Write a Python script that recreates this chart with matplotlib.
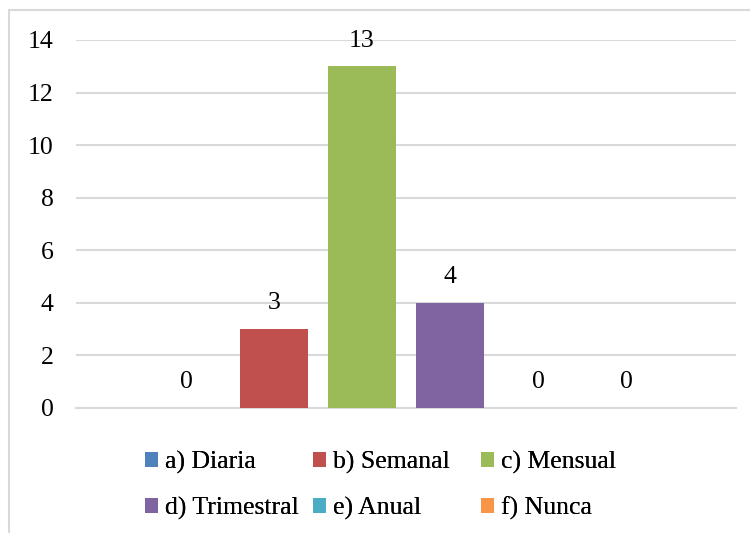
import numpy as np
import matplotlib.pyplot as plt
from matplotlib.patches import Rectangle

# respuestas por frecuencia
labels = ["a) Diaria", "b) Semanal", "c) Mensual", "d) Trimestral", "e) Anual", "f) Nunca"]
values = [0, 3, 13, 4, 0, 0]
colors = ["#4F81BD", "#C0504D", "#9BBB59", "#8064A2", "#4BACC6", "#F79646"]
yticks = [0, 2, 4, 6, 8, 10, 12, 14]


def main():
    plt.rcParams['font.family'] = ['Liberation Serif', 'DejaVu Serif']
    fs = 18.5

    fig = plt.figure(figsize=(7.5, 5.33), dpi=100)
    ax = fig.add_axes([76 / 750, 1 - 408 / 533, 660 / 750, 368 / 533])

    # marco del grafico (se corta a la derecha y abajo)
    fig.patches.append(Rectangle((9 / 750, -0.1), 1.2, 1 - 10 / 533 + 0.1,
                                 transform=fig.transFigure, fill=False,
                                 edgecolor="#D9D9D9", linewidth=1.5))

    x = np.arange(len(values)) - 2.5
    bars = []
    for xi, v, c, lab in zip(x, values, colors, labels):
        b = ax.bar(xi, v, width=0.773, color=c, label=lab, zorder=3)
        bars.append(b[0])
        ax.annotate(str(v), (xi, v), xytext=(0, 18.5), textcoords="offset points",
                    ha="center", va="center", fontsize=fs, color="#000000")

    ax.set_xlim(-3.75, 3.75)
    ax.set_ylim(0, 14)
    ax.set_yticks(yticks)
    ax.set_xticks([])
    ax.tick_params(axis="y", length=0, pad=16, labelsize=fs)
    ax.grid(axis="y", color="#D9D9D9", linewidth=1.5, zorder=0)
    for s in ["top", "right", "left"]:
        ax.spines[s].set_visible(False)
    ax.spines["bottom"].set_color("#D9D9D9")
    ax.spines["bottom"].set_linewidth(1.5)
    ax.spines["bottom"].set_zorder(1)

    # leyenda en tres columnas, dos filas
    col_x = [145, 313, 481]
    for k in range(3):
        hs = [bars[k], bars[k + 3]]
        ls = [labels[k], labels[k + 3]]
        leg = fig.legend(hs, ls, loc="upper left",
                         bbox_to_anchor=(col_x[k] / 750, 1 - 451 / 533),
                         frameon=False, fontsize=fs, handlelength=0.52,
                         handleheight=0.52, handletextpad=0.27,
                         labelspacing=0.88, borderpad=0, borderaxespad=0)
        fig.add_artist(leg)

    fig.savefig("out.png", dpi=100)


if __name__ == '__main__':
    main()
